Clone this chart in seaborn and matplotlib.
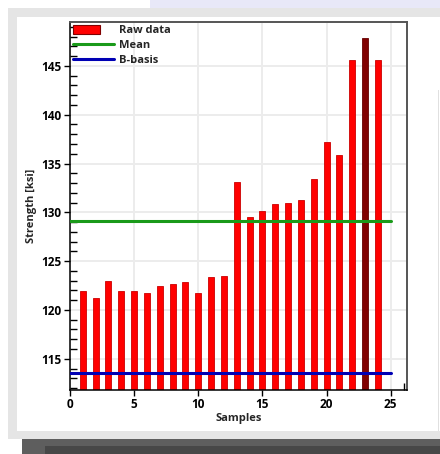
import numpy as np
import pandas as pd
import matplotlib
matplotlib.use("Agg")
import matplotlib.pyplot as plt
from matplotlib.patches import Rectangle, Patch
from matplotlib.lines import Line2D
from matplotlib.legend_handler import HandlerPatch
from matplotlib.ticker import MultipleLocator, FixedLocator
import seaborn as sns

# datos
samples = list(range(1, 25))
strength = [121.9, 121.2, 123.0, 121.9, 121.9, 121.7, 122.5, 122.7, 122.9, 121.7, 123.35, 123.5,
            133.15, 129.5, 130.1, 130.9, 131.0, 131.3, 133.45, 137.2, 135.9, 145.6, 147.9, 145.6]
highlight = ["normal"] * 22 + ["max", "normal"]
b_basis = 113.5

df = pd.DataFrame({"Sample": samples, "Strength": strength, "Tipo": highlight})
mean_val = df["Strength"].mean()

sns.set_theme(style="white")
plt.rcParams["font.family"] = ["Open Sans", "DejaVu Sans"]
plt.rcParams["font.weight"] = "bold"

fig = plt.figure(figsize=(4.4, 4.54), dpi=100)
fig.patch.set_facecolor("white")

# marco de la captura
W, H = 440.0, 454.0
def rect(x0, y0, x1, y1, color):
    fig.patches.append(Rectangle((x0 / W, 1 - y1 / H), (x1 - x0) / W, (y1 - y0) / H,
                                 transform=fig.transFigure, color=color, zorder=-3, lw=0))
rect(150, 0, 440, 9, "#e8e8f8")
rect(8, 8, 440, 439, "#e5e5e5")
rect(17, 17, 440, 431, "white")
rect(438, 90, 439, 431, "#e0e0e0")
rect(22, 439, 440, 454, "#5e5e5e")
rect(45, 446, 440, 454, "#474747")

ax = fig.add_axes([70 / W, 1 - 390 / H, 337 / W, 368 / H])

sns.barplot(data=df, x="Sample", y="Strength", hue="Tipo", native_scale=True, dodge=False,
            palette={"normal": "#ff0000", "max": "#800000"}, saturation=1, width=0.47,
            linewidth=0.6, legend=False, ax=ax)
# borde un poco mas oscuro que el relleno
for bar in ax.patches:
    r, g, b, _ = bar.get_facecolor()
    bar.set_edgecolor((r * 0.8, g * 0.8, b * 0.8))

x_line = [0, len(samples) + 1]
ax.plot(x_line, [mean_val, mean_val], color="#1a9a1a", lw=2.2, zorder=4)
ax.plot(x_line, [b_basis, b_basis], color="#0000b4", lw=2.2, zorder=4)

ax.set_xlim(0, 26.27)
ax.set_ylim(111.8, 149.5)
ax.xaxis.set_major_locator(MultipleLocator(5))
ax.xaxis.set_minor_locator(FixedLocator([26]))
ax.yaxis.set_major_locator(MultipleLocator(5))
ax.yaxis.set_minor_locator(MultipleLocator(1))
ax.grid(True, which="major", color="#ececec", lw=1.4)
ax.set_axisbelow(True)

ax.tick_params(axis="both", which="major", direction="out", length=4, width=1, color="black",
               labelsize=8.5, labelcolor="black", pad=2, bottom=True, left=True)
ax.tick_params(axis="both", which="minor", direction="in", length=5, width=1, color="black",
               left=True, bottom=True)
for lab in ax.get_xticklabels() + ax.get_yticklabels():
    lab.set_fontweight("bold")

for s in ["left", "bottom"]:
    ax.spines[s].set_color("black")
    ax.spines[s].set_linewidth(1.1)
for s in ["top", "right"]:
    ax.spines[s].set_color("#555555")
    ax.spines[s].set_linewidth(1.4)

ax.set_xlabel("Samples", fontsize=8, fontweight="bold", labelpad=1)
ax.set_ylabel("Strength [ksi]", fontsize=8, fontweight="bold", labelpad=3)


# el cuadro rojo de la leyenda es mas corto que las lineas
def caja_corta(legend, orig_handle, xdescent, ydescent, width, height, fontsize):
    return Rectangle((-xdescent, -ydescent), width * 0.65, height)


handles = [Patch(facecolor="#ff0000", edgecolor="#800000", lw=0.8),
           Line2D([], [], color="#1a9a1a", lw=2.2),
           Line2D([], [], color="#0000b4", lw=2.2)]
leg = ax.legend(handles, ["Raw data", "Mean", "B-basis"], loc="upper left", frameon=False,
                handlelength=3.7, handleheight=0.9, labelspacing=0.3,
                borderaxespad=0.15, borderpad=0.1, handletextpad=0.5,
                prop={"weight": "bold", "size": 8},
                handler_map={Patch: HandlerPatch(patch_func=caja_corta)})

fig.savefig("out.png", dpi=100)
